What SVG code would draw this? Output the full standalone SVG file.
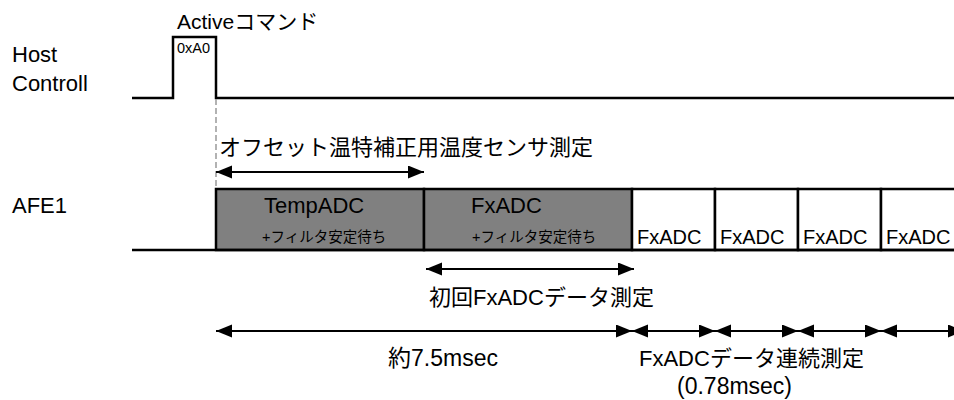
<svg xmlns="http://www.w3.org/2000/svg" width="954" height="400" viewBox="0 0 954 400">
<style>
text{font-family:"Liberation Sans","Noto Sans CJK JP",sans-serif;fill:#000}
.l{font-size:22px}
.xl{font-size:23px}
.m{font-size:20px}
.s{font-size:14.5px}
.box{stroke:#000;stroke-width:2.5}
.base{stroke:#000;stroke-width:2.5;fill:none}
.arr{stroke:#000;stroke-width:1.8;fill:none;marker-start:url(#ah);marker-end:url(#ah)}
</style>
<defs>
<marker id="ah" markerUnits="userSpaceOnUse" markerWidth="17" markerHeight="14" refX="16" refY="6.5" orient="auto-start-reverse">
<path d="M0,0 L16,6.5 L0,13 z" fill="#000"/>
</marker>
</defs>
<rect width="954" height="400" fill="#fff"/>
<g id="host">
<text class="l" x="12" y="62">Host</text>
<text class="l" x="12" y="91">Controll</text>
<polyline class="base" points="132,98 173,98 173,37 216,37 216,98 954,98"/>
<text class="s" x="177" y="53">0xA0</text>
<text class="m" x="177" y="29" style="font-size:21px">Activeコマンド</text>
</g>
<g id="afe1">
<text class="l" x="12" y="213">AFE1</text>
</g>
<g id="temp-adc">
<rect class="box" x="216" y="189" width="208" height="61" fill="#808080"/>
<text class="l" x="264" y="213">TempADC</text>
<text class="s" x="262" y="242">+フィルタ安定待ち</text>
</g>
<g id="fx-adc-first">
<rect class="box" x="424" y="189" width="208" height="61" fill="#808080"/>
<text class="l" x="471" y="213">FxADC</text>
<text class="s" x="472" y="242">+フィルタ安定待ち</text>
</g>
<g id="fx-adc-1">
<rect class="box" x="632" y="189" width="83" height="61" fill="#fff"/>
<text class="m" x="637" y="244">FxADC</text>
</g>
<g id="fx-adc-2">
<rect class="box" x="715" y="189" width="83" height="61" fill="#fff"/>
<text class="m" x="720" y="244">FxADC</text>
</g>
<g id="fx-adc-3">
<rect class="box" x="798" y="189" width="83" height="61" fill="#fff"/>
<text class="m" x="803" y="244">FxADC</text>
</g>
<g id="fx-adc-4">
<rect class="box" x="881" y="189" width="83" height="61" fill="#fff"/>
<text class="m" x="886" y="244">FxADC</text>
</g>
<line class="base" x1="132" y1="250" x2="954" y2="250"/>
<g id="connectors">
<line x1="216" y1="99" x2="216" y2="189" stroke="#999" stroke-width="1.5" stroke-dasharray="6,3"/>
<line class="arr" x1="216" y1="172" x2="424" y2="172"/>
<line class="arr" x1="426" y1="269" x2="634" y2="269"/>
<line class="arr" x1="216" y1="331" x2="632" y2="331"/>
<line class="arr" x1="632" y1="331" x2="715" y2="331"/>
<line class="arr" x1="715" y1="331" x2="798" y2="331"/>
<line class="arr" x1="798" y1="331" x2="881" y2="331"/>
<line class="arr" x1="881" y1="331" x2="964" y2="331"/>
</g>
<g id="labels">
<text class="l" x="219" y="155">オフセット温特補正用温度センサ測定</text>
<text class="l" x="429" y="305">初回FxADCデータ測定</text>
<text class="xl" x="388" y="366">約7.5msec</text>
<text class="l" x="639" y="366">FxADCデータ連続測定</text>
<text class="xl" x="677" y="394">(0.78msec)</text>
</g>
</svg>
